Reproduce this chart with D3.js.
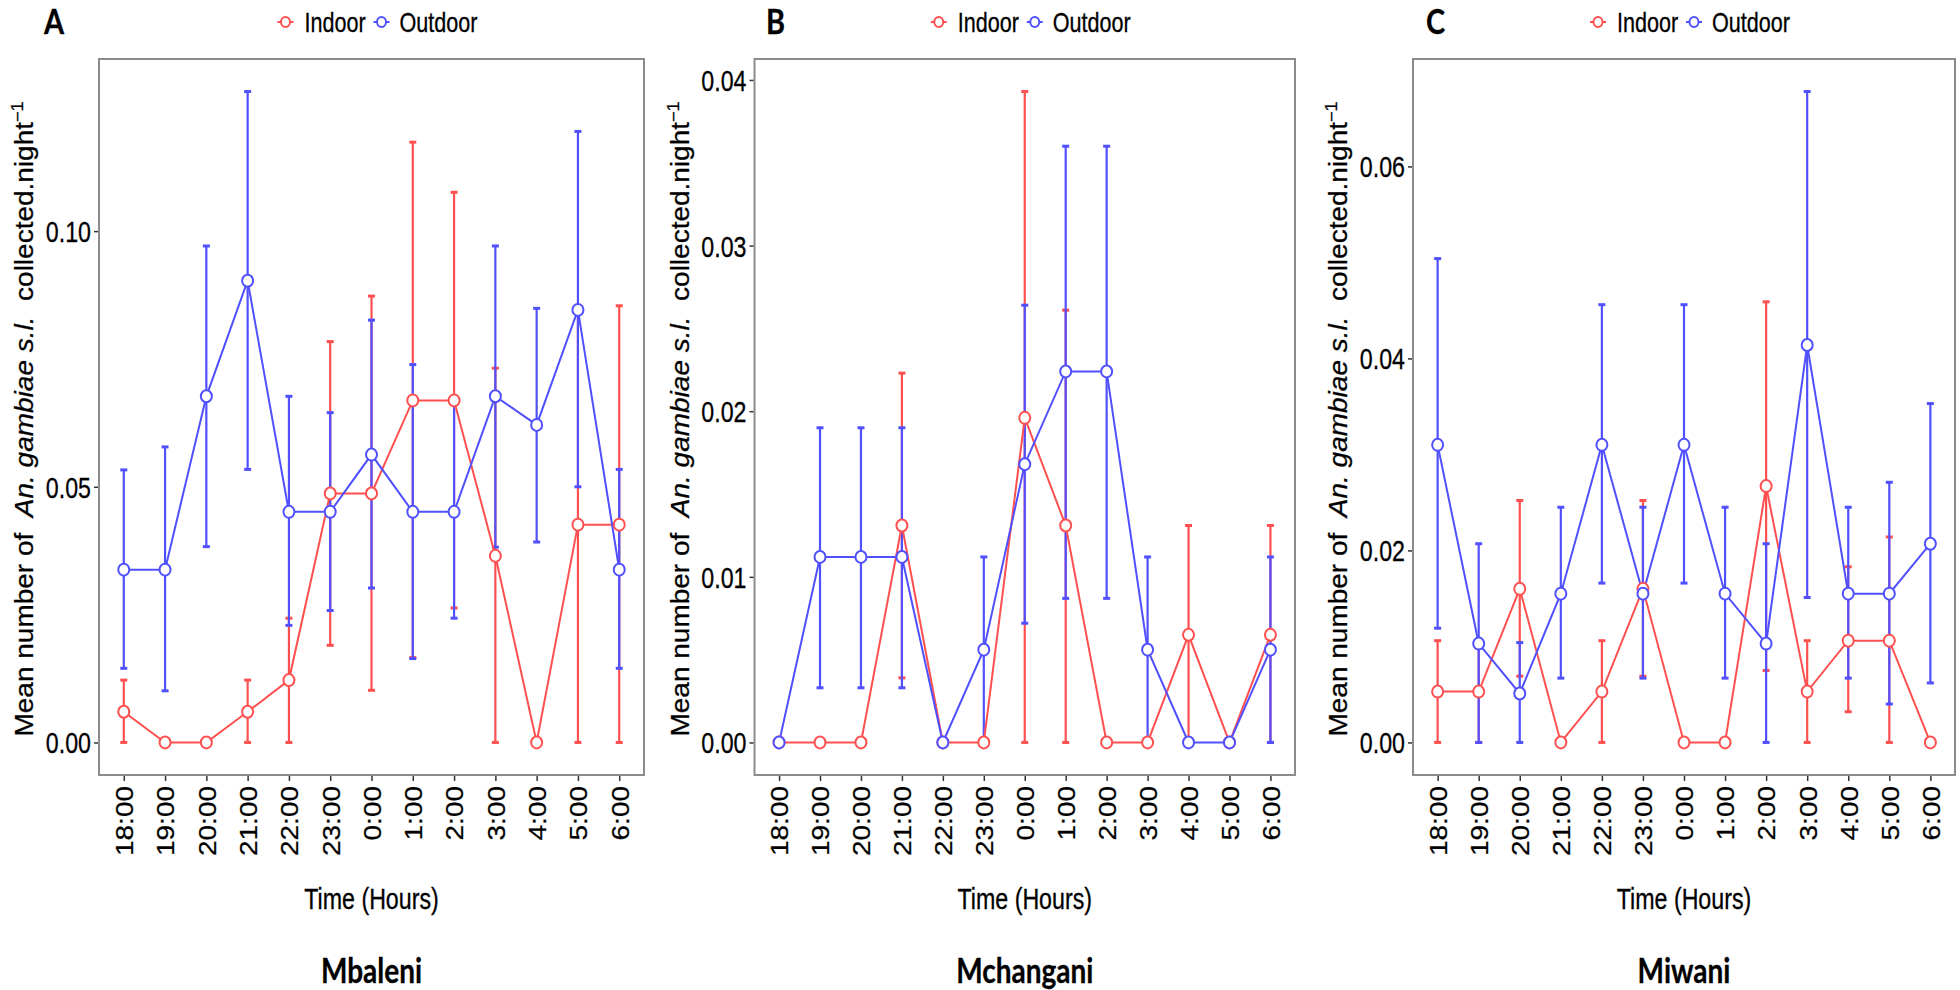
<!DOCTYPE html>
<html>
<head>
<meta charset="utf-8">
<script src="https://cdn.jsdelivr.net/npm/d3@7"></script>
<style>
  html, body { margin: 0; padding: 0; background: #ffffff; }
  svg { display: block; }
  text { font-family: "Liberation Sans", Arial, sans-serif; fill: #000; stroke: #000; stroke-width: 0.3px; }
</style>
</head>
<body>
<svg id="chart" width="1960" height="990"></svg>
<script>
// ---------- data ----------
const hours = ["18:00","19:00","20:00","21:00","22:00","23:00","0:00","1:00","2:00","3:00","4:00","5:00","6:00"];
const seriesNames = ["Indoor", "Outdoor"];
const siteNames = ["Mbaleni", "Mchangani", "Miwani"];
const panelLetters = ["A", "B", "C"];

const mbaleniIndoorMean  = [0.0060,0,0,0.0060,0.0122,0.0487,0.0487,0.0669,0.0669,0.0365,0,0.0426,0.0426];
const mbaleniIndoorLow   = [0,0,0,0,0,0.0190,0.0102,0.0166,0.0263,0,0,0,0];
const mbaleniIndoorHigh  = [0.0122,0,0,0.0122,0.0243,0.0784,0.0873,0.1174,0.1076,0.0732,0,0.0854,0.0854];
const mbaleniOutdoorMean = [0.0338,0.0338,0.0677,0.0903,0.0451,0.0451,0.0563,0.0451,0.0451,0.0677,0.0621,0.0846,0.0338];
const mbaleniOutdoorLow  = [0.0145,0.0101,0.0383,0.0534,0.0229,0.0258,0.0302,0.0164,0.0243,0.0382,0.0392,0.0500,0.0145];
const mbaleniOutdoorHigh = [0.0533,0.0578,0.0971,0.1273,0.0677,0.0645,0.0826,0.0739,0.0661,0.0971,0.0849,0.1195,0.0534];

const mchanganiIndoorMean  = [0,0,0,0.0131,0,0,0.0196,0.0131,0,0,0.0065,0,0.0065];
const mchanganiIndoorLow   = [0,0,0,0.0039,0,0,0,0,0,0,0,0,0];
const mchanganiIndoorHigh  = [0,0,0,0.0223,0,0,0.0393,0.0261,0,0,0.0131,0,0.0131];
const mchanganiOutdoorMean = [0,0.0112,0.0112,0.0112,0,0.0056,0.0168,0.0224,0.0224,0.0056,0,0,0.0056];
const mchanganiOutdoorLow  = [0,0.0033,0.0033,0.0033,0,0,0.0072,0.0087,0.0087,0,0,0,0];
const mchanganiOutdoorHigh = [0,0.0190,0.0190,0.0190,0,0.0112,0.0264,0.0360,0.0360,0.0112,0,0,0.0112];

const miwaniIndoorMean  = [0.0053,0.0053,0.0160,0,0.0053,0.0160,0,0,0.0267,0.0053,0.0106,0.0106,0];
const miwaniIndoorLow   = [0,0,0.0069,0,0,0.0069,0,0,0.0075,0,0.0032,0,0];
const miwaniIndoorHigh  = [0.0106,0.0106,0.0252,0,0.0106,0.0252,0,0,0.0459,0.0106,0.0183,0.0214,0];
const miwaniOutdoorMean = [0.0310,0.0103,0.0051,0.0155,0.0310,0.0155,0.0310,0.0155,0.0103,0.0414,0.0155,0.0155,0.0207];
const miwaniOutdoorLow  = [0.0119,0,0,0.0067,0.0166,0.0067,0.0166,0.0067,0,0.0151,0.0067,0.0040,0.0062];
const miwaniOutdoorHigh = [0.0504,0.0207,0.0104,0.0245,0.0456,0.0245,0.0456,0.0245,0.0207,0.0678,0.0245,0.0271,0.0353];

const mbaleniTicks   = [0, 0.05, 0.10];
const mchanganiTicks = [0, 0.01, 0.02, 0.03, 0.04];
const miwaniTicks    = [0, 0.02, 0.04, 0.06];

// ---------- build ----------
const siteData = [
  { indoor: [mbaleniIndoorMean, mbaleniIndoorLow, mbaleniIndoorHigh],
    outdoor: [mbaleniOutdoorMean, mbaleniOutdoorLow, mbaleniOutdoorHigh], ticks: mbaleniTicks },
  { indoor: [mchanganiIndoorMean, mchanganiIndoorLow, mchanganiIndoorHigh],
    outdoor: [mchanganiOutdoorMean, mchanganiOutdoorLow, mchanganiOutdoorHigh], ticks: mchanganiTicks },
  { indoor: [miwaniIndoorMean, miwaniIndoorLow, miwaniIndoorHigh],
    outdoor: [miwaniOutdoorMean, miwaniOutdoorLow, miwaniOutdoorHigh], ticks: miwaniTicks }
];

// layout (pixels)
const layout = [
  { left: 99,    right: 644,  letterX: 44 },
  { left: 754.5, right: 1295, letterX: 766 },
  { left: 1413,  right: 1955, letterX: 1426 }
];
const plotTop = 59, plotBottom = 775;
const colors = { Indoor: "#ff5050", Outdoor: "#5050ff" };
const SX = 0.8; // horizontal squeeze of the original figure's lettering
const sansFont = "'Liberation Sans', Arial, sans-serif";
const boldFont = "Lato, 'Open Sans', sans-serif";

const svg = d3.select("#chart");

function sqText(parent, x, y, str, size, sx = SX) {
  return parent.append("text")
    .attr("transform", `translate(${x},${y}) scale(${sx},1)`)
    .attr("font-size", size).text(str);
}

siteData.forEach((site, i) => {
  const L = layout[i];
  const g = svg.append("g");

  const series = seriesNames.map((name, k) => {
    const arr = k === 0 ? site.indoor : site.outdoor;
    return { name, values: hours.map((h, j) => ({ h, mean: arr[0][j], low: arr[1][j], high: arr[2][j] })) };
  });

  const maxV = d3.max(series, s => d3.max(s.values, d => d.high));
  const minV = 0;
  const exp = (maxV - minV) * 0.05;

  const x = d3.scalePoint().domain(hours).range([L.left, L.right]).padding(0.6);
  const y = d3.scaleLinear().domain([minV - exp, maxV + exp]).range([plotBottom, plotTop]);

  // panel border
  g.append("rect")
    .attr("x", L.left).attr("y", plotTop)
    .attr("width", L.right - L.left).attr("height", plotBottom - plotTop)
    .attr("fill", "none").attr("stroke", "#8c8c8c").attr("stroke-width", 2);

  // y axis
  const yAxis = d3.axisLeft(y).tickValues(site.ticks).tickFormat(d3.format(".2f")).tickSize(4).tickPadding(3);
  const ya = g.append("g").attr("transform", `translate(${L.left - 1},0)`).call(yAxis);
  ya.select(".domain").remove();
  ya.selectAll(".tick line").attr("stroke", "#333").attr("stroke-width", 1.5);
  ya.selectAll(".tick text").attr("font-size", 29).attr("fill", "#000")
    .attr("font-family", sansFont)
    .attr("x", -7 / SX).attr("dy", "0.36em")
    .attr("transform", `scale(${SX},1)`);

  // x axis
  const xAxis = d3.axisBottom(x).tickSize(5).tickPadding(6);
  const xa = g.append("g").attr("transform", `translate(0,${plotBottom + 1})`).call(xAxis);
  xa.select(".domain").remove();
  xa.selectAll(".tick line").attr("stroke", "#333").attr("stroke-width", 1.5);
  xa.selectAll(".tick text")
    .attr("font-size", 28).attr("fill", "#000")
    .attr("font-family", sansFont)
    .attr("text-anchor", "end")
    .attr("transform", `scale(0.88,1) rotate(-90)`)
    .attr("x", -10).attr("y", 0).attr("dy", "0.36em");

  // error bars
  const capW = 3.5;
  series.forEach(s => {
    const eb = g.append("g").attr("stroke", colors[s.name]).attr("stroke-width", 2.2).attr("fill", "none");
    s.values.forEach(d => {
      const cx = x(d.h);
      eb.append("line").attr("x1", cx).attr("x2", cx).attr("y1", y(d.low)).attr("y2", y(d.high));
      eb.append("line").attr("x1", cx - capW).attr("x2", cx + capW).attr("y1", y(d.low)).attr("y2", y(d.low)).attr("stroke-width", 3);
      eb.append("line").attr("x1", cx - capW).attr("x2", cx + capW).attr("y1", y(d.high)).attr("y2", y(d.high)).attr("stroke-width", 3);
    });
  });

  // lines
  const line = d3.line().x(d => x(d.h)).y(d => y(d.mean));
  series.forEach(s => {
    g.append("path").datum(s.values).attr("d", line)
      .attr("fill", "none").attr("stroke", colors[s.name]).attr("stroke-width", 2);
  });

  // points
  series.forEach(s => {
    g.append("g").selectAll("ellipse").data(s.values).join("ellipse")
      .attr("cx", d => x(d.h)).attr("cy", d => y(d.mean)).attr("rx", 5.5).attr("ry", 6)
      .attr("fill", "#fff").attr("stroke", colors[s.name]).attr("stroke-width", 2);
  });

  const cxPanel = (L.left + L.right) / 2;

  // legend
  const legendOffsets = [{ sym: -86, txt: -67 }, { sym: 10, txt: 28 }];
  seriesNames.forEach((name, k) => {
    const o = legendOffsets[k];
    const lg = g.append("g");
    lg.append("line").attr("x1", cxPanel + o.sym - 8).attr("x2", cxPanel + o.sym + 8)
      .attr("y1", 22).attr("y2", 22).attr("stroke", colors[name]).attr("stroke-width", 2);
    lg.append("ellipse").attr("cx", cxPanel + o.sym).attr("cy", 22).attr("rx", 4.5).attr("ry", 5)
      .attr("fill", "#fff").attr("stroke", colors[name]).attr("stroke-width", 2);
    sqText(lg, cxPanel + o.txt, 31.5, name, 27);
  });

  // panel letter
  sqText(g, L.letterX, 34, panelLetters[i], 34, 0.85)
    .style("font-family", boldFont).attr("font-weight", "bold");

  // x axis title
  sqText(g, cxPanel, 909, "Time (Hours)", 29).attr("text-anchor", "middle");

  // site name
  sqText(g, cxPanel, 983, siteNames[i], 35).attr("text-anchor", "middle")
    .style("font-family", boldFont).attr("font-weight", "bold");

  // y axis title
  const yt = g.append("text")
    .attr("transform", `translate(${L.left - 66},${(plotTop + plotBottom) / 2 + 2}) scale(0.9,1) rotate(-90)`)
    .attr("text-anchor", "middle").attr("font-size", 28).style("white-space", "pre");
  yt.append("tspan").text("Mean number of  ");
  yt.append("tspan").attr("font-style", "italic").text("An. gambiae s.l.");
  yt.append("tspan").text("  collected.night");
  yt.append("tspan").attr("font-size", 18).attr("dy", -11).text("\u22121");
});
</script>
</body>
</html>
